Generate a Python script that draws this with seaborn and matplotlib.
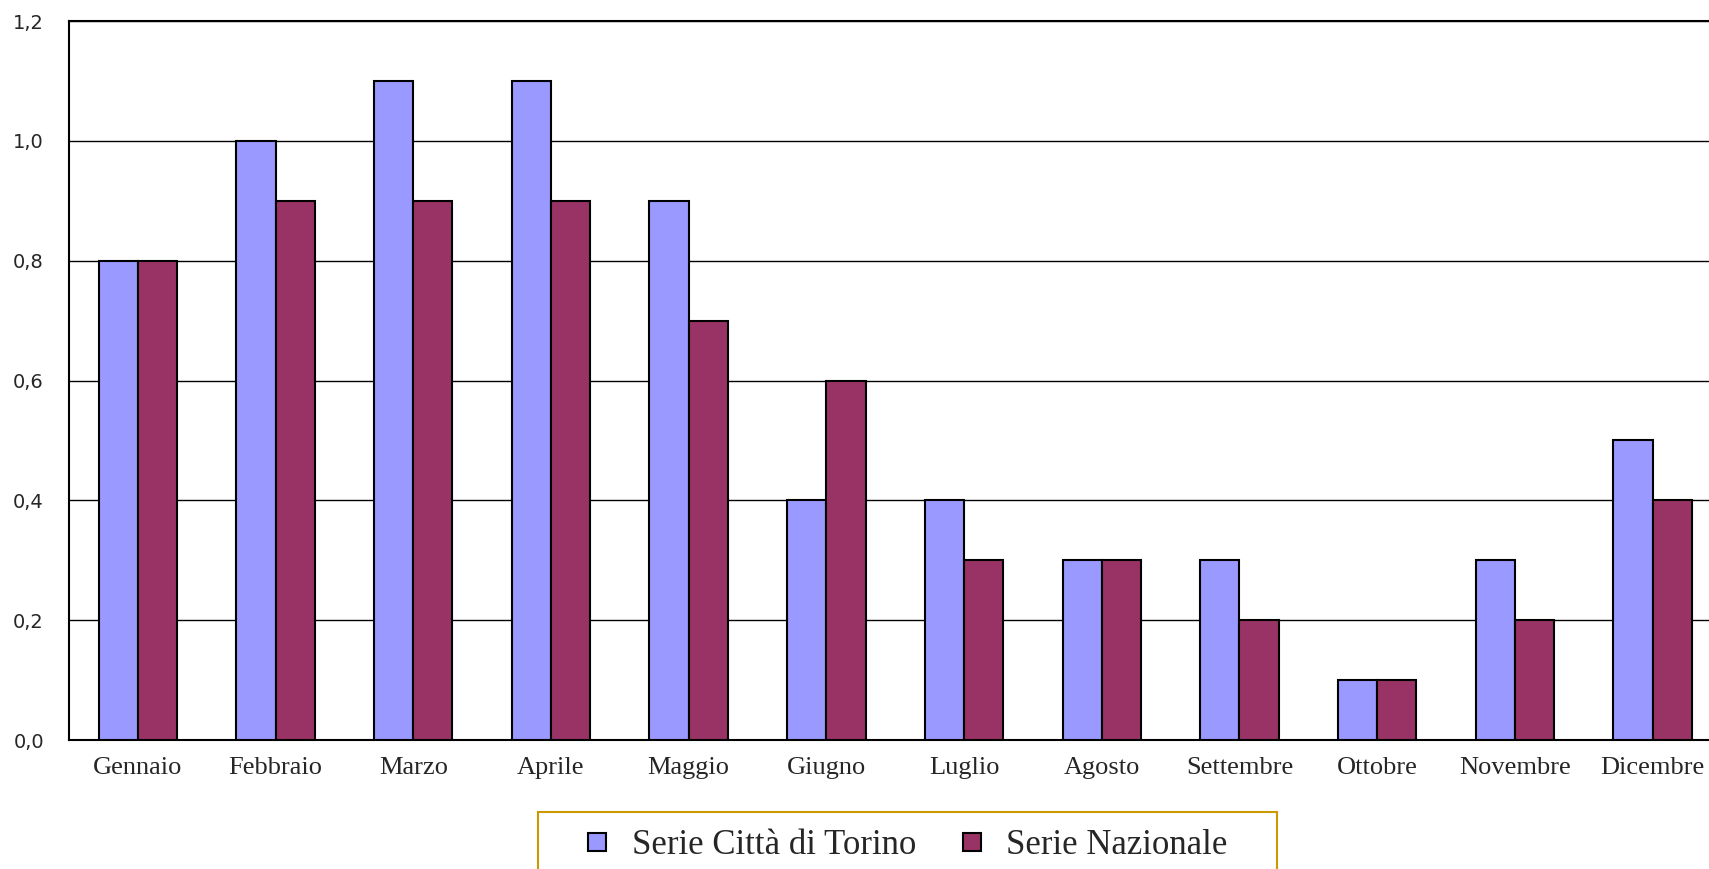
import matplotlib
matplotlib.use("Agg")
import matplotlib.pyplot as plt
import seaborn as sns
import pandas as pd
from matplotlib.lines import Line2D
from matplotlib.patches import Rectangle

months = ["Gennaio", "Febbraio", "Marzo", "Aprile", "Maggio", "Giugno",
          "Luglio", "Agosto", "Settembre", "Ottobre", "Novembre", "Dicembre"]
torino = [0.8, 1.0, 1.1, 1.1, 0.9, 0.4, 0.4, 0.3, 0.3, 0.1, 0.3, 0.5]
nazionale = [0.8, 0.9, 0.9, 0.9, 0.7, 0.6, 0.3, 0.3, 0.2, 0.1, 0.2, 0.4]
series_names = ["Serie Città di Torino", "Serie Nazionale"]
y_ticks = [0.0, 0.2, 0.4, 0.6, 0.8, 1.0, 1.2]
y_labels = ["0,0", "0,2", "0,4", "0,6", "0,8", "1,0", "1,2"]
colors = ["#9999FF", "#993366"]

df = pd.DataFrame({
    "Mese": months * 2,
    "Valore": torino + nazionale,
    "Serie": [series_names[0]] * len(months) + [series_names[1]] * len(months),
})

W, H = 1709, 869
sns.set_style("white")
fig = plt.figure(figsize=(W / 100, H / 100), dpi=100)
ax = fig.add_axes([69 / W, 1 - 740 / H, 1 - 69 / W, (740 - 21) / H])

sns.barplot(data=df, x="Mese", y="Valore", hue="Serie", order=months,
            hue_order=series_names, palette=colors, width=0.57, gap=0,
            edgecolor="black", linewidth=1.5, saturation=1, ax=ax,
            legend=False, zorder=3)

ax.set_ylim(0, 1.2)
ax.set_xlim(-0.5, 11.41)
ax.set_yticks(y_ticks)
ax.set_yticklabels(y_labels, fontfamily="DejaVu Sans", fontsize=14)
for lbl in ax.get_xticklabels():
    lbl.set_fontfamily("Liberation Serif")
    lbl.set_fontsize(19)
ax.tick_params(axis="both", length=0)
ax.tick_params(axis="y", pad=18)
ax.tick_params(axis="x", pad=12)
ax.set_xlabel("")
ax.set_ylabel("")
ax.yaxis.grid(True, color="black", linewidth=1.0)
ax.set_axisbelow(True)
for side in ["left", "top", "bottom"]:
    ax.spines[side].set_visible(True)
    ax.spines[side].set_color("black")
    ax.spines[side].set_linewidth(1.5)
ax.spines["right"].set_visible(False)

# legend box (frame drawn separately, extends below the figure edge)
fig.patches.append(Rectangle((538 / W, -0.05), (1277 - 538) / W, 0.05 + 1 - 812 / H,
                             transform=fig.transFigure, facecolor="none",
                             edgecolor="#CC9900", linewidth=1.5))

handles = [Line2D([], [], marker="s", linestyle="none", markersize=12.5,
                  markerfacecolor=c, markeredgecolor="black",
                  markeredgewidth=1.5) for c in colors]
leg = fig.legend(handles, series_names, loc="upper left",
                 bbox_to_anchor=(538 / W, 1 - 812 / H), ncol=2,
                 prop={"family": "Liberation Serif", "size": 25},
                 frameon=False, borderpad=0.5,
                 handlelength=2.4, handletextpad=-0.2,
                 columnspacing=0.4, borderaxespad=0)

fig.savefig("out.png", dpi=100)
